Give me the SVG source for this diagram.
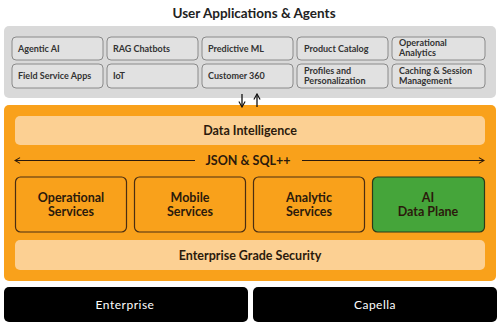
<svg xmlns="http://www.w3.org/2000/svg" width="500" height="332" viewBox="0 0 500 332">
<defs>
<style>
.t{font-family:Lato,"Liberation Sans",sans-serif;fill:#2b1a0c;text-anchor:middle}
.title{font-size:13.5px;font-weight:bold;fill:#222}
.app{fill:#e1e1e1;stroke:#8a8a8a;stroke-width:1}
.appt{font-family:Lato,"Liberation Sans",sans-serif;font-size:9px;font-weight:bold;fill:#333}
.bar{fill:#fcd093}
.bart{font-size:12.5px;font-weight:bold}
.svc{fill:#f9a11b;stroke:#4a2e12;stroke-width:1.2}
.ai{fill:#45a53a;stroke:#2b3a1a;stroke-width:1.2}
.svct{font-size:12.5px;font-weight:bold}
.plat{fill:#000}
.platt{font-family:Lato,"Liberation Sans",sans-serif;font-size:12px;fill:#fff;text-anchor:middle;letter-spacing:0.5px}
.ln{stroke:#2b1a0c;stroke-width:1.2;fill:none}
</style>
<marker id="ah" viewBox="0 0 10 10" refX="9" refY="5" markerWidth="6" markerHeight="6" orient="auto-start-reverse"><path d="M2,1 L9,5 L2,9" fill="none" stroke="#2b1a0c" stroke-width="1.5"/></marker>
<marker id="ahk" viewBox="0 0 10 10" refX="9" refY="5" markerWidth="6" markerHeight="6" orient="auto-start-reverse"><path d="M2,1 L9,5 L2,9" fill="none" stroke="#111" stroke-width="1.5"/></marker>
</defs>
<rect width="500" height="332" fill="#fff"/>

<g id="user-apps">
<text class="t title" x="254" y="17.5">User Applications &amp; Agents</text>
<rect x="4" y="26" width="492" height="72" rx="5" fill="#d9d9d9"/>
</g>
<g id="app-agentic"><rect class="app" x="12" y="37" width="91" height="23" rx="4"/><text class="appt" x="18" y="51.5">Agentic AI</text></g>
<g id="app-rag"><rect class="app" x="107" y="37" width="91" height="23" rx="4"/><text class="appt" x="113" y="51.5">RAG Chatbots</text></g>
<g id="app-predictive"><rect class="app" x="202" y="37" width="91" height="23" rx="4"/><text class="appt" x="208" y="51.5">Predictive ML</text></g>
<g id="app-catalog"><rect class="app" x="297" y="37" width="91" height="23" rx="4"/><text class="appt" x="304" y="51.5">Product Catalog</text></g>
<g id="app-opanalytics"><rect class="app" x="392" y="37" width="93" height="23" rx="4"/><text class="appt" x="399" y="46">Operational</text><text class="appt" x="399" y="56">Analytics</text></g>
<g id="app-field"><rect class="app" x="12" y="64" width="91" height="24" rx="4"/><text class="appt" x="18" y="79">Field Service Apps</text></g>
<g id="app-iot"><rect class="app" x="107" y="64" width="91" height="24" rx="4"/><text class="appt" x="113" y="79">IoT</text></g>
<g id="app-c360"><rect class="app" x="202" y="64" width="91" height="24" rx="4"/><text class="appt" x="208" y="79">Customer 360</text></g>
<g id="app-profiles"><rect class="app" x="297" y="64" width="91" height="24" rx="4"/><text class="appt" x="304" y="73.5">Profiles and</text><text class="appt" x="304" y="83.5">Personalization</text></g>
<g id="app-caching"><rect class="app" x="392" y="64" width="93" height="24" rx="4"/><text class="appt" x="399" y="73.5">Caching &amp; Session</text><text class="appt" x="399" y="83.5">Management</text></g>

<g id="platform">
<rect x="4" y="105" width="492" height="176" rx="5" fill="#f9a11b"/>
</g>
<g id="data-intelligence"><rect class="bar" x="15" y="116" width="470" height="29" rx="5"/><text class="t bart" x="250" y="135">Data Intelligence</text></g>
<g id="json-sql"><text class="t bart" x="248" y="165">JSON &amp; SQL++</text></g>
<g id="operational"><rect class="svc" x="15.5" y="177" width="111" height="55" rx="5"/><text class="t svct" x="71" y="202">Operational</text><text class="t svct" x="71" y="215.5">Services</text></g>
<g id="mobile"><rect class="svc" x="134.5" y="177" width="111" height="55" rx="5"/><text class="t svct" x="190" y="202">Mobile</text><text class="t svct" x="190" y="215.5">Services</text></g>
<g id="analytic"><rect class="svc" x="253.5" y="177" width="111" height="55" rx="5"/><text class="t svct" x="309" y="202">Analytic</text><text class="t svct" x="309" y="215.5">Services</text></g>
<g id="ai-data-plane"><rect class="ai" x="372.5" y="177" width="112" height="55" rx="5"/><text class="t svct" x="428" y="202">AI</text><text class="t svct" x="428" y="215.5">Data Plane</text></g>
<g id="security"><rect class="bar" x="15" y="240" width="470" height="30" rx="5"/><text class="t bart" x="250" y="259.5">Enterprise Grade Security</text></g>

<g id="enterprise"><rect class="plat" x="4" y="287" width="244" height="35" rx="5"/><text class="platt" x="125" y="309">Enterprise</text></g>
<g id="capella"><rect class="plat" x="253" y="287" width="244" height="35" rx="5"/><text class="platt" x="375" y="309">Capella</text></g>

<g id="connectors">
<line class="ln" x1="195" y1="160.5" x2="15" y2="160.5" marker-end="url(#ah)"/>
<line class="ln" x1="302" y1="160.5" x2="484" y2="160.5" marker-end="url(#ah)"/>
<line x1="242" y1="94" x2="242" y2="107" stroke="#111" stroke-width="1.3" marker-end="url(#ahk)"/>
<line x1="257" y1="107" x2="257" y2="94" stroke="#111" stroke-width="1.3" marker-end="url(#ahk)"/>
</g>
</svg>
